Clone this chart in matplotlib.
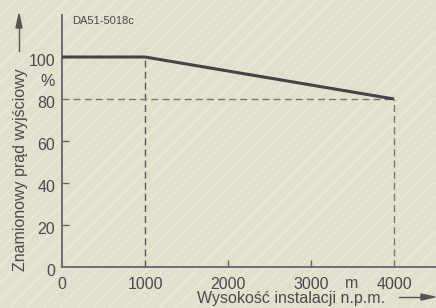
import matplotlib
matplotlib.use('Agg')
import matplotlib.pyplot as plt
from matplotlib.patches import Rectangle
import matplotlib.transforms as mtransforms

plt.rcParams['font.family'] = ['Liberation Sans', 'DejaVu Sans']
plt.rcParams['hatch.linewidth'] = 0.7

# derating curve
altitude = [0, 1000, 4000]
current = [100, 100, 80]
x_ticks = [0, 1000, 2000, 3000, 4000]
y_ticks = [0, 20, 40, 60, 80, 100]

bg = '#e3dfcd'
txt = '#4a4a4a'
fs = 11.5

fig = plt.figure(figsize=(4.36, 3.08), dpi=100)
fig.patch.set_facecolor(bg)
fig.patches.append(Rectangle((0, 0), 1, 1, transform=fig.transFigure,
                             facecolor='none', edgecolor='#eeebe0', lw=0,
                             hatch='//', zorder=-10))

ax = fig.add_axes([62/436, 41/308, 374/436, 252/308])
ax.patch.set_alpha(0)
ax.set_xlim(0, 4506)
ax.set_ylim(0, 120)

ax.plot(altitude, current, color='#444444', lw=2.2, solid_capstyle='butt', zorder=3)
ax.plot([1000, 1000], [0, 100], color='#555555', lw=1, ls=(0, (5, 3)))
ax.plot([0, 4000], [80, 80], color='#777777', lw=1, ls=(0, (5, 3)))
ax.plot([4000, 4000], [0, 80], color='#777777', lw=1, ls=(0, (5, 3)))

for s in ['top', 'right']:
    ax.spines[s].set_visible(False)
for s in ['left', 'bottom']:
    ax.spines[s].set_color('#666666')
    ax.spines[s].set_linewidth(1.3)

ax.set_xticks(x_ticks)
ax.set_yticks(y_ticks)
ax.tick_params(direction='in', length=5, width=1, color='#666666',
               labelsize=fs, labelcolor=txt)
ax.tick_params(axis='x', pad=7)
ax.tick_params(axis='y', pad=5)
ax.set_xticklabels([str(v) for v in x_ticks])
ax.set_yticklabels([str(v) for v in y_ticks])
# y labels sit a bit below their ticks in the original
shift = mtransforms.ScaledTranslation(0, -3/100, fig.dpi_scale_trans)
for lab in ax.get_yticklabels():
    lab.set_transform(lab.get_transform() + shift)
# hide ticks where dashed lines / curve start
for i in [0, 1, 4]:
    ax.xaxis.get_major_ticks()[i].tick1line.set_visible(False)
for i in [0, 4, 5]:
    ax.yaxis.get_major_ticks()[i].tick1line.set_visible(False)

fig.text(48/436, 1 - 81/308, '%', fontsize=fs, color=txt, ha='center', va='center')
fig.text(352/436, 1 - 284/308, 'm', fontsize=fs, color=txt, ha='center', va='center')
fig.text(72/436, 1 - 21/308, 'DA51-5018c', fontsize=8, color=txt, ha='left', va='center')

fig.text(21/436, 1 - 170/308, 'Znamionowy prąd wyjściowy', rotation=90,
         fontsize=fs, color=txt, ha='center', va='center')
fig.text(291/436, 1 - 299/308, 'Wysokość instalacji n.p.m.',
         fontsize=fs, color=txt, ha='center', va='center')

fig.add_artist(plt.Line2D([19/436, 19/436], [1 - 51/308, 1 - 27/308], color='#555555', lw=1))
fig.patches.append(plt.Polygon([[16/436, 1 - 28/308], [22/436, 1 - 28/308], [19/436, 1 - 14/308]],
                               closed=True, transform=fig.transFigure, color='#555555'))
fig.add_artist(plt.Line2D([399/436, 422/436], [1 - 297/308, 1 - 297/308], color='#555555', lw=1))
fig.patches.append(plt.Polygon([[421/436, 1 - 294/308], [421/436, 1 - 300/308], [435/436, 1 - 297/308]],
                               closed=True, transform=fig.transFigure, color='#555555'))

fig.savefig('out.png', dpi=100, facecolor=bg)
